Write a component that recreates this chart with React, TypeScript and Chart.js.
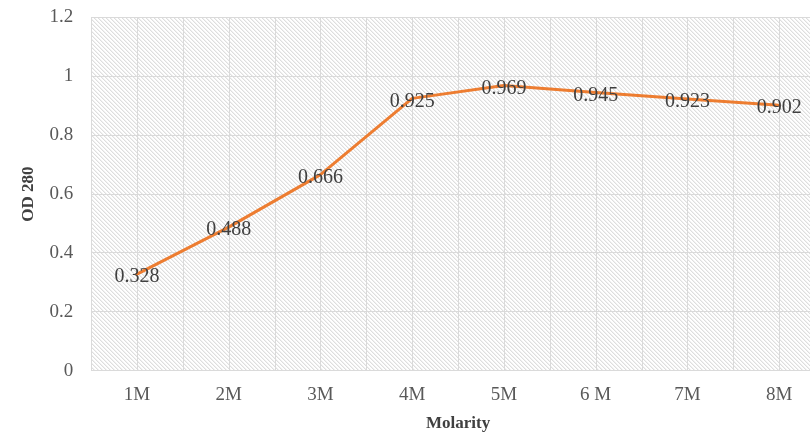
import React, { useEffect, useRef } from "react";
import { Chart, registerables } from "chart.js";

Chart.register(...registerables);

const categories = ["1M", "2M", "3M", "4M", "5M", "6 M", "7M", "8M"];
const odValues = [0.328, 0.488, 0.666, 0.925, 0.969, 0.945, 0.923, 0.902];
const yTicks = [0, 0.2, 0.4, 0.6, 0.8, 1, 1.2];

const SERIF = "'Liberation Serif', 'Times New Roman', serif";

function makePattern(): CanvasPattern | string {
  const c = document.createElement("canvas");
  c.width = 4;
  c.height = 4;
  const g = c.getContext("2d");
  if (!g) return "#fff";
  g.fillStyle = "#ffffff";
  g.fillRect(0, 0, 4, 4);
  for (let i = 0; i < 4; i++) {
    g.fillStyle = "#dedede";
    g.fillRect(i, i, 1, 1);
    g.fillStyle = "#f1f1f1";
    g.fillRect((i + 1) % 4, i, 1, 1);
  }
  const p = g.createPattern(c, "repeat");
  return p || "#fff";
}

const backgroundPlugin = {
  id: "hatchBg",
  beforeDraw(chart: any) {
    const { ctx, chartArea, scales } = chart;
    if (!chartArea) return;
    ctx.save();
    ctx.fillStyle = makePattern();
    ctx.fillRect(chartArea.left, chartArea.top, chartArea.right - chartArea.left, chartArea.bottom - chartArea.top);
    const xs = scales.x;
    ctx.strokeStyle = "#dadada";
    ctx.lineWidth = 1;
    const n = categories.length;
    const half = (xs.getPixelForValue(1) - xs.getPixelForValue(0)) / 2;
    for (let i = 0; i < n; i++) {
      const c = xs.getPixelForValue(i);
      [c - half, c, c + half].forEach((x) => {
        const px = Math.round(x) + 0.5;
        ctx.beginPath();
        ctx.moveTo(px, chartArea.top);
        ctx.lineTo(px, chartArea.bottom);
        ctx.stroke();
      });
    }
    ctx.restore();
  },
};

const labelPlugin = {
  id: "pointLabels",
  afterDatasetsDraw(chart: any) {
    const { ctx } = chart;
    const meta = chart.getDatasetMeta(0);
    ctx.save();
    ctx.font = `20px ${SERIF}`;
    ctx.fillStyle = "#404040";
    ctx.textAlign = "center";
    ctx.textBaseline = "middle";
    meta.data.forEach((pt: any, i: number) => {
      ctx.fillText(String(odValues[i]), pt.x, pt.y + 3);
    });
    ctx.restore();
  },
};

export default function App() {
  const ref = useRef<HTMLCanvasElement>(null);

  useEffect(() => {
    if (!ref.current) return;
    const chart = new Chart(ref.current, {
      type: "line",
      data: {
        labels: categories,
        datasets: [
          {
            data: odValues,
            borderColor: "rgb(237,125,49)",
            borderWidth: 3,
            pointRadius: 0,
            tension: 0,
            borderCapStyle: "round",
            borderJoinStyle: "round",
            fill: false,
          },
        ],
      },
      options: {
        animation: false,
        responsive: false,
        layout: { padding: { left: 18, top: 0, right: 5, bottom: 1 } },
        plugins: {
          legend: { display: false },
          tooltip: { enabled: false },
        },
        scales: {
          x: {
            offset: true,
            grid: {
              display: true,
              drawOnChartArea: false,
              drawTicks: true,
              tickLength: 10,
              tickColor: "rgba(0,0,0,0)",
              color: "rgba(0,0,0,0)",
              offset: false,
            },
            border: { display: false },
            ticks: {
              padding: 3,
              color: "#595959",
              font: { family: SERIF, size: 19 },
            },
            title: {
              display: true,
              text: "Molarity",
              color: "#404040",
              font: { family: SERIF, size: 17, weight: "bold" },
              padding: { top: 4, bottom: 0 },
            },
          },
          y: {
            min: 0,
            max: 1.2,
            afterBuildTicks(scale: any) {
              scale.ticks = yTicks.map((v) => ({ value: v }));
            },
            grid: {
              color: "#dadada",
              drawTicks: true,
              tickLength: 12,
              tickColor: "rgba(0,0,0,0)",
            },
            border: { display: false },
            ticks: {
              padding: 6,
              color: "#595959",
              font: { family: SERIF, size: 19 },
              callback: (v: any) => String(Math.round(Number(v) * 10) / 10),
            },
            title: {
              display: true,
              text: "OD 280",
              color: "#404040",
              font: { family: SERIF, size: 17, weight: "bold" },
              padding: { top: 0, bottom: 5 },
            },
          },
        },
      },
      plugins: [backgroundPlugin, labelPlugin],
    });
    return () => chart.destroy();
  }, []);

  return (
    <div
      style={{
        position: "fixed",
        left: 0,
        top: 0,
        width: 810,
        height: 435,
        overflow: "hidden",
        background: "#fff",
      }}
    >
      <canvas ref={ref} width={830} height={435} style={{ display: "block" }} />
    </div>
  );
}
